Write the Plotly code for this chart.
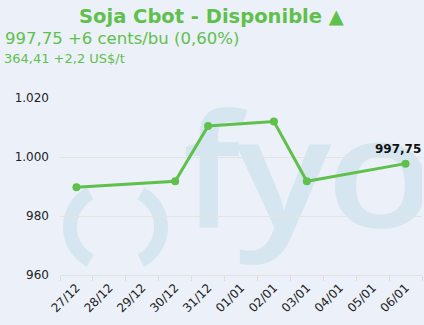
import math
import base64
import plotly.graph_objects as go

# ---- data ----
categories = ["27/12", "28/12", "29/12", "30/12", "31/12", "01/01",
              "02/01", "03/01", "04/01", "05/01", "06/01"]
dates = ["27/12", "30/12", "31/12", "02/01", "03/01", "06/01"]
prices = [989.75, 991.75, 1010.5, 1012.0, 991.75, 997.75]
last_label = "997,75"
y_tickvals = [960, 980, 1000, 1020]
y_ticktext = ["960", "980", "1.000", "1.020"]
title_text = "Soja Cbot - Disponible ▲"
line1_text = "997,75 +6 cents/bu (0,60%)"
line2_text = "364,41 +2,2 US$/t"

GREEN = "#5fc04b"
BG = "#ecf1f9"
WM = "#d5e6f0"

W, H = 424, 325
ML, MR, MT, MB = 60, 2, 98, 50
PW, PH = W - ML - MR, H - MT - MB


def px2paper(px, py):
    return (px - ML) / PW, (H - MB - py) / PH


# ---- watermark svg (full-figure pixel coordinates) ----
def arc(cx, cy, r, a0, a1):
    x0, y0 = cx + r * math.cos(math.radians(a0)), cy - r * math.sin(math.radians(a0))
    x1, y1 = cx + r * math.cos(math.radians(a1)), cy - r * math.sin(math.radians(a1))
    sweep = 0 if a1 > a0 else 1
    return f"M{x0:.1f},{y0:.1f} A{r},{r} 0 0 {sweep} {x1:.1f},{y1:.1f}"

svg = f'''<svg xmlns="http://www.w3.org/2000/svg" width="{W}" height="{H}" viewBox="0 0 {W} {H}">
<defs><clipPath id="c"><rect x="{ML}" y="{MT}" width="{PW}" height="{PH}"/></clipPath></defs>
<g clip-path="url(#c)" fill="{WM}">
<path d="{arc(108, 227, 38, 118, 242)}" stroke="{WM}" stroke-width="14" fill="none"/>
<path d="{arc(123, 227, 38, 62, -62)}" stroke="{WM}" stroke-width="14" fill="none"/>
<text x="183" y="228" font-family="Open Sans" font-weight="600" font-size="158">f</text>
<text x="236" y="228" font-family="Open Sans" font-weight="600" font-size="155" transform="translate(236,0) scale(1.15,1) translate(-236,0)">y</text>
<text x="326" y="228" font-family="Open Sans" font-weight="600" font-size="155" transform="translate(326,0) scale(1.15,1) translate(-326,0)">o</text>
</g></svg>'''
svg_uri = "data:image/svg+xml;base64," + base64.b64encode(svg.encode()).decode()

fig = go.Figure()
fig.add_trace(go.Scatter(
    x=dates, y=prices, mode="lines+markers",
    line=dict(color=GREEN, width=3),
    marker=dict(color=GREEN, size=8),
    hoverinfo="skip", showlegend=False,
))

x0p, y0p = px2paper(0, 0)
fig.add_layout_image(dict(
    source=svg_uri, xref="paper", yref="paper", x=x0p, y=y0p,
    sizex=W / PW, sizey=H / PH, xanchor="left", yanchor="top",
    sizing="stretch", layer="below",
))

ann = []
tx, ty = px2paper(211, 16)
ann.append(dict(text=f"<b>{title_text}</b>", x=tx, y=ty, xref="paper", yref="paper",
                xanchor="center", yanchor="middle", showarrow=False,
                font=dict(family="DejaVu Sans", size=19.5, color=GREEN)))
tx, ty = px2paper(3, 38)
ann.append(dict(text=line1_text, x=tx, y=ty, xref="paper", yref="paper",
                xanchor="left", yanchor="middle", showarrow=False,
                font=dict(family="DejaVu Sans", size=16.5, color=GREEN)))
tx, ty = px2paper(2, 58)
ann.append(dict(text=line2_text, x=tx, y=ty, xref="paper", yref="paper",
                xanchor="left", yanchor="middle", showarrow=False,
                font=dict(family="DejaVu Sans", size=13, color=GREEN)))
ann.append(dict(text=f"<b>{last_label}</b>", x=dates[-1], y=prices[-1], xref="x", yref="y",
                xanchor="center", yanchor="bottom", yshift=6, xshift=-8, showarrow=False,
                font=dict(family="DejaVu Sans", size=12, color="#111")))

fig.update_layout(
    width=W, height=H,
    margin=dict(l=ML, r=MR, t=MT, b=MB, pad=0),
    paper_bgcolor=BG, plot_bgcolor=BG,
    annotations=ann,
    xaxis=dict(type="category", categoryorder="array", categoryarray=categories,
               range=[-0.5, len(categories) - 0.5], tickson="boundaries", ticks="outside", ticklen=5,
               tickcolor="#dcdcdc", showgrid=False, showline=True, linecolor="#e2e2e2",
               tickangle=-45, tickfont=dict(family="DejaVu Sans", size=12, color="#222"),
               zeroline=False, fixedrange=True),
    yaxis=dict(range=[960, 1020], tickvals=y_tickvals, ticktext=y_ticktext,
               showgrid=True, gridcolor="#e3e3e3", gridwidth=1, zeroline=False,
               ticks="", ticklabelstandoff=10,
               tickfont=dict(family="DejaVu Sans", size=12, color="#222"), fixedrange=True),
)

fig.write_html("out.html")
